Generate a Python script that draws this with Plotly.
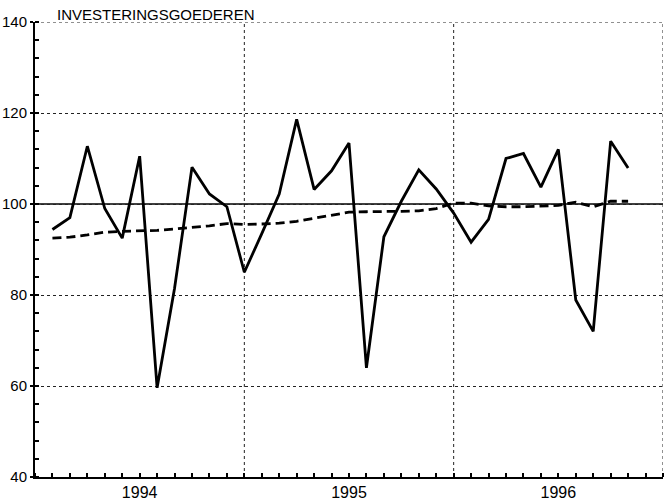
import plotly.graph_objects as go

# Month-end positions (months since start of 1994): Jan 1994 .. Oct 1996
months = list(range(1, 35))

actual = [94.4, 97.0, 112.7, 99.0, 92.5, 110.5, 59.6, 81.5, 108.1, 102.2, 99.4, 85.0,
          93.5, 102.2, 118.6, 103.2, 107.3, 113.4, 64.0, 92.8, 100.6, 107.5, 103.3, 98.0,
          91.6, 96.6, 110.0, 111.1, 103.7, 112.0, 78.9, 72.0, 113.8, 107.9]

trend = [92.5, 92.7, 93.2, 93.8, 94.0, 94.1, 94.2, 94.5, 94.8, 95.2, 95.7, 95.5,
         95.6, 95.8, 96.2, 96.9, 97.6, 98.2, 98.3, 98.3, 98.4, 98.5, 99.0, 100.2,
         100.2, 99.6, 99.4, 99.4, 99.5, 99.7, 100.4, 99.4, 100.6, 100.6]

year_labels = ["1994", "1995", "1996"]
year_label_pos = [6, 18, 30]
year_bounds = [12, 24, 36]
y_ticks = [40, 60, 80, 100, 120, 140]
base_level = 100
title_text = "INVESTERINGSGOEDEREN"

FONT = "Arial"

fig = go.Figure()
fig.add_trace(go.Scatter(x=months, y=trend, mode="lines",
                         line=dict(color="black", width=2.8, dash="9px,5px"),
                         showlegend=False, hoverinfo="skip"))
fig.add_trace(go.Scatter(x=months, y=actual, mode="lines",
                         line=dict(color="black", width=2.8),
                         showlegend=False, hoverinfo="skip"))

for b in year_bounds:
    fig.add_vline(x=b, line=dict(color="#222", width=1, dash="dot"), layer="below")
fig.add_hline(y=base_level, line=dict(color="black", width=1.5), layer="below")
fig.add_hline(y=y_ticks[-1], line=dict(color="#222", width=1, dash="dot"), layer="below")

# Title above the top-left of the plot area
fig.add_annotation(text=title_text, xref="paper", yref="paper", x=0.193, y=1,
                   xanchor="center", yanchor="bottom", showarrow=False, yshift=-3,
                   font=dict(family=FONT, size=15, color="black"))

fig.update_layout(
    template="none",
    width=664, height=502,
    margin=dict(l=35, r=1, t=22, b=25, pad=0),
    paper_bgcolor="white", plot_bgcolor="white",
    font=dict(family=FONT, color="black"),
    xaxis=dict(range=[0, 36], tickmode="array", tickvals=year_label_pos, ticktext=year_labels,
               ticks="", showgrid=False, zeroline=False, automargin=False,
               showline=True, linecolor="black", linewidth=2,
               tickfont=dict(size=16, color="black"),
               minor=dict(tickmode="linear", tick0=0, dtick=1, ticks="inside",
                          ticklen=4, tickwidth=1.5, tickcolor="black", showgrid=False)),
    yaxis=dict(range=[40, 140], tickmode="array", tickvals=y_ticks,
               ticks="outside", ticklen=3, tickwidth=1.5, tickcolor="black",
               showgrid=True, gridcolor="#222", gridwidth=1, griddash="dot",
               zeroline=False, showline=True, linecolor="black", linewidth=2,
               automargin=False,
               tickfont=dict(size=15, color="black"),
               minor=dict(tickmode="linear", tick0=40, dtick=4, ticks="inside",
                          ticklen=4, tickwidth=1.5, tickcolor="black", showgrid=False)),
)

# Remove the browser's default 8px body margin so the figure fills the window.
fig.write_html("out.html", config={"displayModeBar": False},
               post_script="document.body.style.margin='0px';document.body.style.overflow='hidden';")
